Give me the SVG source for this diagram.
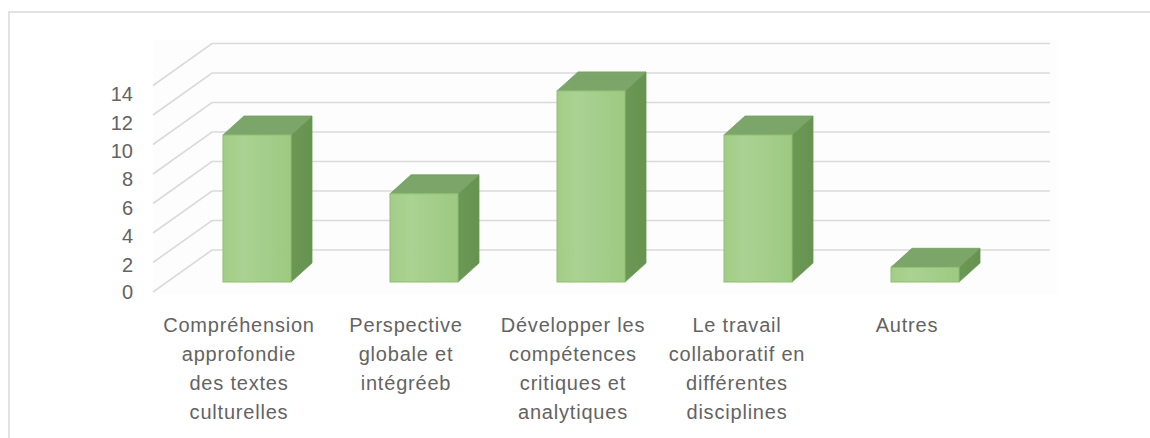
<svg xmlns="http://www.w3.org/2000/svg" width="1150" height="438" viewBox="0 0 1150 438">
  <style>
    .grid { fill: none; stroke: #dadada; stroke-width: 1.6; }
    .ylab { font-family: "Liberation Sans", Arial, sans-serif; font-size: 20px; fill: #636363; text-anchor: end; }
    .xlab { font-family: "Liberation Sans", Arial, sans-serif; font-size: 20px; fill: #636363; text-anchor: middle; letter-spacing: 0.8px; }
    .front { fill: url(#gFront); stroke: #8fc070; stroke-width: 1; }
    .side { fill: url(#gSide); stroke: #6a9656; stroke-width: 0.8; }
    .top { fill: #7ca56a; stroke: #74a060; stroke-width: 0.8; }
  </style>
  <defs>
    <linearGradient id="gFront" x1="0" y1="0" x2="1" y2="0">
      <stop offset="0" stop-color="#a2cd86"/>
      <stop offset="0.3" stop-color="#aad292"/>
      <stop offset="1" stop-color="#9dc982"/>
    </linearGradient>
    <linearGradient id="gSide" x1="0" y1="0" x2="1" y2="0">
      <stop offset="0" stop-color="#6c9856"/>
      <stop offset="1" stop-color="#66934f"/>
    </linearGradient>
  </defs>
  <rect x="0" y="0" width="1150" height="438" fill="#ffffff"/>
  <path d="M9,438 V12 H1150" fill="none" stroke="#d9d9d9" stroke-width="1.5"/>
  <rect x="153" y="40" width="905" height="255" fill="#fdfdfd"/>

  <g id="gridlines">
    <path class="grid" d="M153,292 L212,250 H1050"/>
    <path class="grid" d="M153,262.5 L212,220.5 H1050"/>
    <path class="grid" d="M153,233 L212,191 H1050"/>
    <path class="grid" d="M153,203.5 L212,161.5 H1050"/>
    <path class="grid" d="M153,174 L212,132 H1050"/>
    <path class="grid" d="M153,144.5 L212,102.5 H1050"/>
    <path class="grid" d="M153,115 L212,73 H1050"/>
    <path class="grid" d="M153,85.5 L212,43.5 H1050"/>
  </g>

  <g id="y-axis">
    <text class="ylab" x="133" y="299">0</text>
    <text class="ylab" x="133" y="271.6">2</text>
    <text class="ylab" x="133" y="243.2">4</text>
    <text class="ylab" x="133" y="214.8">6</text>
    <text class="ylab" x="133" y="186.4">8</text>
    <text class="ylab" x="133" y="158">10</text>
    <text class="ylab" x="133" y="129.6">12</text>
    <text class="ylab" x="133" y="101.2">14</text>
  </g>

  <g id="bar1">
    <polygon class="side" points="291,135 312,116 312,263 291,282"/>
    <polygon class="top" points="223,135 244,116 312,116 291,135"/>
    <rect class="front" x="223" y="135" width="68" height="147"/>
  </g>
  <g id="bar2">
    <polygon class="side" points="458,193.8 479,174.8 479,263 458,282"/>
    <polygon class="top" points="390,193.8 411,174.8 479,174.8 458,193.8"/>
    <rect class="front" x="390" y="193.8" width="68" height="88.2"/>
  </g>
  <g id="bar3">
    <polygon class="side" points="625,90.9 646,71.9 646,263 625,282"/>
    <polygon class="top" points="557,90.9 578,71.9 646,71.9 625,90.9"/>
    <rect class="front" x="557" y="90.9" width="68" height="191.1"/>
  </g>
  <g id="bar4">
    <polygon class="side" points="792,135 813,116 813,263 792,282"/>
    <polygon class="top" points="724,135 745,116 813,116 792,135"/>
    <rect class="front" x="724" y="135" width="68" height="147"/>
  </g>
  <g id="bar5">
    <polygon class="side" points="959,267.3 980,248.3 980,263 959,282"/>
    <polygon class="top" points="891,267.3 912,248.3 980,248.3 959,267.3"/>
    <rect class="front" x="891" y="267.3" width="68" height="14.7"/>
  </g>

  <g id="label1">
    <text class="xlab" x="239" y="332">Compréhension</text>
    <text class="xlab" x="239" y="361">approfondie</text>
    <text class="xlab" x="239" y="390">des textes</text>
    <text class="xlab" x="239" y="419">culturelles</text>
  </g>
  <g id="label2">
    <text class="xlab" x="406" y="332">Perspective</text>
    <text class="xlab" x="406" y="361">globale et</text>
    <text class="xlab" x="406" y="390">intégréeb</text>
  </g>
  <g id="label3">
    <text class="xlab" x="573" y="332">Développer les</text>
    <text class="xlab" x="573" y="361">compétences</text>
    <text class="xlab" x="573" y="390">critiques et</text>
    <text class="xlab" x="573" y="419">analytiques</text>
  </g>
  <g id="label4">
    <text class="xlab" x="737" y="332">Le travail</text>
    <text class="xlab" x="737" y="361">collaboratif en</text>
    <text class="xlab" x="737" y="390">différentes</text>
    <text class="xlab" x="737" y="419">disciplines</text>
  </g>
  <g id="label5">
    <text class="xlab" x="907" y="332">Autres</text>
  </g>
</svg>
